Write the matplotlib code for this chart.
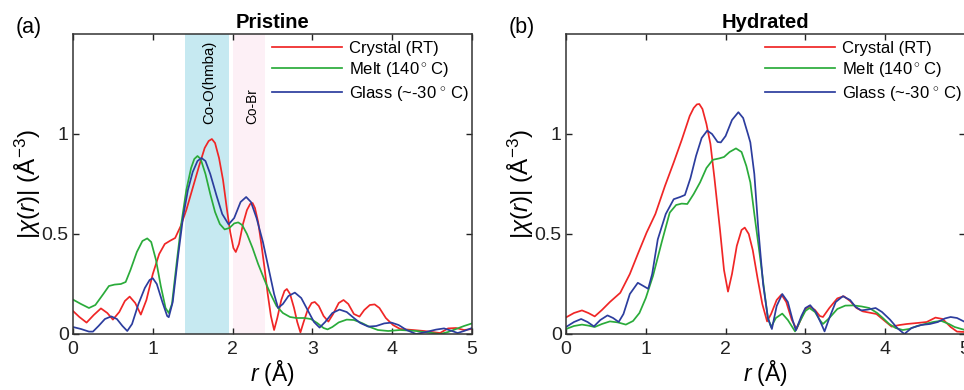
import matplotlib
matplotlib.use("Agg")
import matplotlib.pyplot as plt

plt.rcParams['font.family'] = ['Liberation Sans', 'DejaVu Sans']
plt.rcParams['mathtext.fontset'] = 'custom'
plt.rcParams['mathtext.rm'] = 'Liberation Sans'
plt.rcParams['mathtext.it'] = 'Liberation Sans:italic'
plt.rcParams['mathtext.bf'] = 'Liberation Sans:bold'

# ---- data (r in Angstrom, |chi(r)| in A^-3) ----
labels = ["Crystal (RT)", "Melt (140$^\\circ\\,$C)", "Glass (~-30$\\,^\\circ\\,$C)"]
colors = ["#f02626", "#2aab3a", "#2c3d9e"]

pristine_crystal_r = [0.0, 0.08, 0.17, 0.26, 0.35, 0.43, 0.5, 0.58, 0.65, 0.71, 0.78, 0.85, 0.92, 1.0,
                      1.08, 1.15, 1.22, 1.28, 1.35, 1.42, 1.5, 1.58, 1.65, 1.7, 1.74, 1.78, 1.83, 1.88,
                      1.93, 1.97, 2.01, 2.04, 2.08, 2.13, 2.18, 2.22, 2.25, 2.28, 2.32, 2.36, 2.4, 2.44,
                      2.48, 2.52, 2.56, 2.61, 2.65, 2.68, 2.72, 2.77, 2.81, 2.85, 2.89, 2.94, 2.99, 3.03,
                      3.08, 3.14, 3.2, 3.26, 3.33, 3.39, 3.45, 3.52, 3.59, 3.65, 3.72, 3.78, 3.84, 3.92,
                      4.01, 4.1, 4.26, 4.4, 4.5, 4.6, 4.7, 4.8, 4.9, 5.0]
pristine_crystal_chi = [0.115, 0.085, 0.057, 0.095, 0.128, 0.105, 0.072, 0.11, 0.165, 0.187, 0.155, 0.097,
                        0.17, 0.30, 0.40, 0.45, 0.467, 0.48, 0.54, 0.62, 0.73, 0.84, 0.93, 0.965, 0.975,
                        0.955, 0.88, 0.77, 0.62, 0.51, 0.43, 0.41, 0.45, 0.55, 0.62, 0.65, 0.655, 0.63,
                        0.56, 0.45, 0.33, 0.2, 0.09, 0.02, 0.08, 0.17, 0.215, 0.225, 0.2, 0.13, 0.06,
                        0.008, 0.06, 0.12, 0.155, 0.16, 0.14, 0.09, 0.062, 0.1, 0.155, 0.17, 0.15, 0.1,
                        0.087, 0.12, 0.145, 0.148, 0.13, 0.08, 0.045, 0.025, 0.02, 0.015, 0.01, 0.005,
                        0.028, 0.03, 0.02, 0.025]

pristine_melt_r = [0.0, 0.1, 0.2, 0.28, 0.38, 0.45, 0.52, 0.6, 0.66, 0.72, 0.8, 0.87, 0.93, 0.98, 1.04,
                   1.1, 1.16, 1.2, 1.24, 1.3, 1.36, 1.42, 1.48, 1.52, 1.56, 1.6, 1.66, 1.72, 1.78, 1.84,
                   1.9, 1.96, 2.02, 2.07, 2.12, 2.18, 2.25, 2.32, 2.4, 2.47, 2.55, 2.63, 2.72, 2.8, 2.9,
                   2.98, 3.06, 3.14, 3.19, 3.25, 3.33, 3.43, 3.52, 3.62, 3.72, 3.82, 3.95, 4.1, 4.3,
                   4.5, 4.6, 4.7, 4.8, 4.9, 5.0]
pristine_melt_chi = [0.172, 0.15, 0.13, 0.145, 0.2, 0.24, 0.247, 0.25, 0.26, 0.32, 0.41, 0.465, 0.478,
                     0.46, 0.37, 0.24, 0.13, 0.105, 0.15, 0.36, 0.56, 0.72, 0.83, 0.875, 0.89, 0.875,
                     0.8, 0.7, 0.61, 0.55, 0.523, 0.53, 0.553, 0.558, 0.545, 0.5, 0.43, 0.35, 0.27,
                     0.205, 0.14, 0.105, 0.085, 0.08, 0.08, 0.075, 0.055, 0.03, 0.023, 0.035, 0.058,
                     0.072, 0.07, 0.055, 0.035, 0.02, 0.015, 0.02, 0.015, 0.005, 0.0, 0.01, 0.025,
                     0.04, 0.053]

pristine_glass_r = [0.0, 0.1, 0.2, 0.25, 0.32, 0.4, 0.48, 0.55, 0.62, 0.68, 0.74, 0.82, 0.9, 0.96, 1.0,
                    1.05, 1.12, 1.18, 1.2, 1.25, 1.32, 1.38, 1.44, 1.5, 1.56, 1.61, 1.66, 1.72, 1.8,
                    1.87, 1.95, 2.02, 2.1, 2.17, 2.23, 2.3, 2.38, 2.45, 2.52, 2.57, 2.63, 2.7, 2.78,
                    2.86, 2.94, 3.02, 3.09, 3.16, 3.25, 3.34, 3.43, 3.52, 3.6, 3.7, 3.8, 3.9, 3.99,
                    4.08, 4.18, 4.3, 4.42, 4.55, 4.65, 4.75, 4.82, 4.9, 5.0]
pristine_glass_chi = [0.035, 0.025, 0.012, 0.012, 0.04, 0.075, 0.088, 0.075, 0.04, 0.015, 0.05, 0.15,
                      0.23, 0.27, 0.279, 0.25, 0.16, 0.09, 0.084, 0.16, 0.4, 0.587, 0.72, 0.81, 0.865,
                      0.88, 0.865, 0.8, 0.69, 0.6, 0.548, 0.58, 0.66, 0.685, 0.66, 0.58, 0.46, 0.33,
                      0.2, 0.13, 0.15, 0.19, 0.207, 0.18, 0.12, 0.06, 0.032, 0.06, 0.105, 0.122, 0.11,
                      0.08, 0.055, 0.037, 0.04, 0.053, 0.057, 0.045, 0.02, 0.0, 0.01, 0.022, 0.028,
                      0.015, 0.005, 0.015, 0.03]

hydrated_crystal_r = [0.0, 0.1, 0.2, 0.28, 0.36, 0.45, 0.55, 0.68, 0.8, 0.9, 1.01, 1.12, 1.24, 1.35,
                      1.45, 1.55, 1.6, 1.64, 1.67, 1.71, 1.76, 1.81, 1.86, 1.93, 1.98, 2.03, 2.08, 2.14,
                      2.2, 2.24, 2.29, 2.34, 2.4, 2.46, 2.52, 2.57, 2.64, 2.7, 2.76, 2.83, 2.89, 2.95,
                      3.0, 3.05, 3.12, 3.18, 3.22, 3.3, 3.4, 3.48, 3.56, 3.64, 3.72, 3.8, 3.89, 3.98,
                      4.08, 4.18, 4.27, 4.4, 4.52, 4.63, 4.72, 4.82, 4.9, 5.0]
hydrated_crystal_chi = [0.083, 0.105, 0.118, 0.105, 0.088, 0.12, 0.16, 0.206, 0.3, 0.4, 0.507, 0.6,
                        0.74, 0.858, 0.97, 1.09, 1.13, 1.148, 1.15, 1.125, 1.05, 0.95, 0.78, 0.52, 0.32,
                        0.212, 0.3, 0.44, 0.52, 0.532, 0.5, 0.42, 0.28, 0.15, 0.063, 0.1, 0.17, 0.197,
                        0.16, 0.07, 0.025, 0.08, 0.125, 0.139, 0.12, 0.09, 0.085, 0.13, 0.178, 0.189,
                        0.165, 0.13, 0.113, 0.107, 0.1, 0.07, 0.037, 0.045, 0.05, 0.055, 0.06, 0.082,
                        0.075, 0.035, 0.012, 0.01]

hydrated_melt_r = [0.0, 0.1, 0.2, 0.28, 0.36, 0.45, 0.55, 0.65, 0.75, 0.84, 0.92, 1.0, 1.09, 1.2, 1.3,
                   1.38, 1.45, 1.52, 1.6, 1.68, 1.76, 1.84, 1.92, 1.98, 2.05, 2.13, 2.2, 2.26, 2.31,
                   2.36, 2.43, 2.49, 2.53, 2.57, 2.63, 2.71, 2.78, 2.87, 2.94, 3.0, 3.05, 3.12, 3.18,
                   3.22, 3.3, 3.4, 3.5, 3.6, 3.7, 3.8, 3.9, 3.97, 4.05, 4.13, 4.22, 4.3, 4.4, 4.5,
                   4.6, 4.7, 4.8, 4.87, 5.0]
hydrated_melt_chi = [0.025, 0.04, 0.047, 0.042, 0.035, 0.05, 0.063, 0.058, 0.047, 0.065, 0.105, 0.18,
                     0.29, 0.46, 0.607, 0.645, 0.652, 0.65, 0.7, 0.758, 0.83, 0.871, 0.878, 0.885,
                     0.91, 0.928, 0.91, 0.84, 0.758, 0.6, 0.39, 0.2, 0.08, 0.035, 0.08, 0.102, 0.07,
                     0.013, 0.07, 0.115, 0.13, 0.11, 0.07, 0.05, 0.08, 0.125, 0.142, 0.143, 0.138,
                     0.13, 0.105, 0.08, 0.05, 0.03, 0.02, 0.025, 0.04, 0.05, 0.06, 0.066, 0.05, 0.035,
                     0.02]

hydrated_glass_r = [0.0, 0.1, 0.19, 0.27, 0.35, 0.43, 0.52, 0.59, 0.66, 0.72, 0.8, 0.9, 0.97, 1.03,
                    1.08, 1.15, 1.25, 1.35, 1.43, 1.49, 1.56, 1.63, 1.7, 1.77, 1.83, 1.9, 1.94, 2.0,
                    2.08, 2.16, 2.22, 2.28, 2.31, 2.36, 2.41, 2.47, 2.53, 2.58, 2.64, 2.71, 2.78, 2.84,
                    2.88, 2.95, 3.0, 3.06, 3.13, 3.2, 3.24, 3.3, 3.38, 3.47, 3.56, 3.63, 3.7, 3.78,
                    3.88, 3.96, 4.06, 4.15, 4.24, 4.33, 4.45, 4.56, 4.66, 4.75, 4.82, 4.9, 5.0]
hydrated_glass_chi = [0.035, 0.06, 0.075, 0.06, 0.038, 0.07, 0.093, 0.08, 0.06, 0.1, 0.2, 0.256, 0.24,
                      0.226, 0.3, 0.473, 0.6, 0.674, 0.685, 0.695, 0.78, 0.891, 0.98, 1.017, 1.0, 0.96,
                      0.958, 0.99, 1.07, 1.109, 1.08, 1.0, 0.958, 0.8, 0.523, 0.25, 0.08, 0.025, 0.14,
                      0.2, 0.16, 0.07, 0.018, 0.09, 0.13, 0.144, 0.11, 0.05, 0.013, 0.08, 0.16, 0.189,
                      0.17, 0.135, 0.118, 0.122, 0.13, 0.11, 0.072, 0.03, 0.0, 0.03, 0.045, 0.05, 0.06,
                      0.078, 0.085, 0.08, 0.06]

# shaded bond regions in the pristine panel: (start, end, colour, label, label x, label size)
bands = [(1.40, 1.95, "#c6e9f1", "Co-O(hmba)", 1.71, 10.8),
         (2.00, 2.40, "#fdf0f6", "Co-Br", 2.24, 9.8)]

panels = [
    ("Pristine", "(a)", [(pristine_crystal_r, pristine_crystal_chi),
                         (pristine_melt_r, pristine_melt_chi),
                         (pristine_glass_r, pristine_glass_chi)]),
    ("Hydrated", "(b)", [(hydrated_crystal_r, hydrated_crystal_chi),
                         (hydrated_melt_r, hydrated_melt_chi),
                         (hydrated_glass_r, hydrated_glass_chi)]),
]

W, H = 964, 390
fig = plt.figure(figsize=(W / 100, H / 100), dpi=100)
axes_px = [(73, 399), (566, 399)]   # left edge and width of each axes, in pixels
top_px, bottom_px = 34, 334

for i, (title, tag, series) in enumerate(panels):
    left, width = axes_px[i]
    ax = fig.add_axes([left / W, (H - bottom_px) / H, width / W, (bottom_px - top_px) / H])

    if i == 0:
        for x0, x1, c, txt, xt, fs in bands:
            ax.axvspan(x0, x1, color=c, lw=0, zorder=0)
            ax.text(xt, 1.05, txt, rotation=90, ha="center", va="bottom", fontsize=fs, zorder=1)

    for (r, chi), c, lab in zip(series, colors, labels):
        ax.plot(r, chi, color=c, lw=1.25, label=lab, zorder=2)

    ax.set_xlim(0, 5)
    ax.set_ylim(0, 1.5)
    ax.set_xticks([0, 1, 2, 3, 4, 5])
    ax.set_yticks([0, 0.5, 1])
    ax.set_yticklabels(["0", "0.5", "1"])
    ax.tick_params(direction="in", top=True, right=True, length=4, width=1.0,
                   labelsize=14, colors="#222222", pad=3)
    ax.tick_params(axis="x", pad=5)
    for s in ax.spines.values():
        s.set_linewidth(1.1)
        s.set_color("#333333")

    ax.set_xlabel("$r$ (Å)", fontsize=16.5, labelpad=0)
    ax.set_ylabel(r"$|\chi(r)|$ (Å$^{-3}$)", fontsize=17.5)
    ax.yaxis.label.set_verticalalignment("center")
    ax.yaxis.set_label_coords(-0.112, 0.5)
    ax.set_title(title, fontsize=14.5, fontweight="bold", pad=4)

    ax.legend(loc="upper left", bbox_to_anchor=(0.499, 0.978), frameon=False, fontsize=12,
              handlelength=4.2, handletextpad=0.42, labelspacing=0.27, borderpad=0,
              borderaxespad=0)

    fig.text((left - 44) / W, 1 - 27 / H, tag, fontsize=15.5, ha="center", va="center")

fig.savefig("out.png", dpi=100)
